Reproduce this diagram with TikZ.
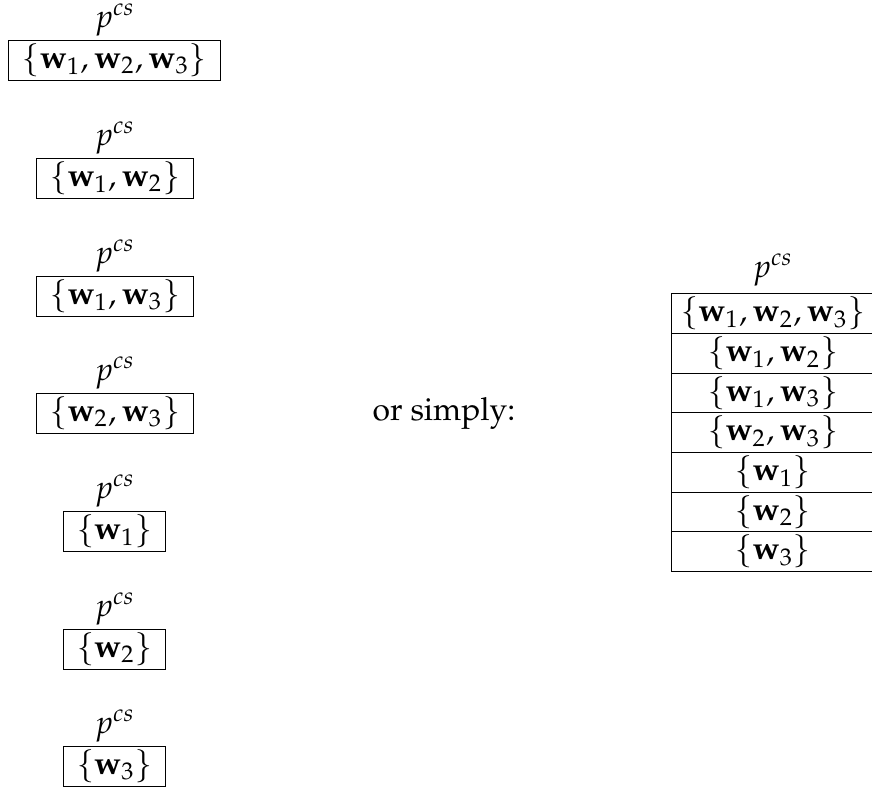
\documentclass[tikz,border=0pt]{standalone}
\usepackage[T1]{fontenc}
\usepackage{amsmath}
\usepackage{mathpazo}
\usepackage{tikz}
\newcommand{\condset}{p^{cs}}
\newcommand{\wv}[1]{\mathbf{w}_{#1}}

\tikzset{
  setbox/.style={draw, line width=0.3pt, inner sep=0pt, minimum height=12.2pt},
  widebox/.style={setbox, minimum width=64.4pt},
  midbox/.style={setbox, minimum width=47.6pt},
  smallbox/.style={setbox, minimum width=31.4pt},
  tablerow/.style={draw, line width=0.3pt, inner sep=0pt, minimum height=12.1pt, minimum width=62.2pt}
}

\begin{document}
\begin{tikzpicture}[x=0.305pt,y=-0.305pt,font=\fontsize{9.7}{11.6}\selectfont]
\useasboundingbox (0,0) rectangle (872,787);
% one box per subset
\node              (labelOneTwoThree)  at (115,  20) {$\condset$};
\node[widebox]     (setOneTwoThree)    at (114.5,60) {$\{\wv{1},\wv{2},\wv{3}\}$};
\node              (labelOneTwo)       at (115, 138) {$\condset$};
\node[midbox]      (setOneTwo)         at (115, 178) {$\{\wv{1},\wv{2}\}$};
\node              (labelOneThree)     at (115, 256) {$\condset$};
\node[midbox]      (setOneThree)       at (115, 296) {$\{\wv{1},\wv{3}\}$};
\node              (labelTwoThree)     at (115, 373) {$\condset$};
\node[midbox]      (setTwoThree)       at (115, 413) {$\{\wv{2},\wv{3}\}$};
\node              (labelOne)          at (115, 491) {$\condset$};
\node[smallbox]    (setOne)            at (114.5,531) {$\{\wv{1}\}$};
\node              (labelTwo)          at (115, 609) {$\condset$};
\node[smallbox]    (setTwo)            at (114.5,649) {$\{\wv{2}\}$};
\node              (labelThree)        at (115, 726) {$\condset$};
\node[smallbox]    (setThree)          at (114.5,766) {$\{\wv{3}\}$};

\node              (simply)            at (444, 413) {or simply:};

% all subsets in one table
\node              (tableLabel)        at (773, 270) {$\condset$};
\node[tablerow]    (rowOneTwoThree)    at (773,313.50) {$\{\wv{1},\wv{2},\wv{3}\}$};
\node[tablerow]    (rowOneTwo)         at (773,353.17) {$\{\wv{1},\wv{2}\}$};
\node[tablerow]    (rowOneThree)       at (773,392.84) {$\{\wv{1},\wv{3}\}$};
\node[tablerow]    (rowTwoThree)       at (773,432.51) {$\{\wv{2},\wv{3}\}$};
\node[tablerow]    (rowOne)            at (773,472.18) {$\{\wv{1}\}$};
\node[tablerow]    (rowTwo)            at (773,511.85) {$\{\wv{2}\}$};
\node[tablerow]    (rowThree)          at (773,551.52) {$\{\wv{3}\}$};
\end{tikzpicture}
\end{document}
